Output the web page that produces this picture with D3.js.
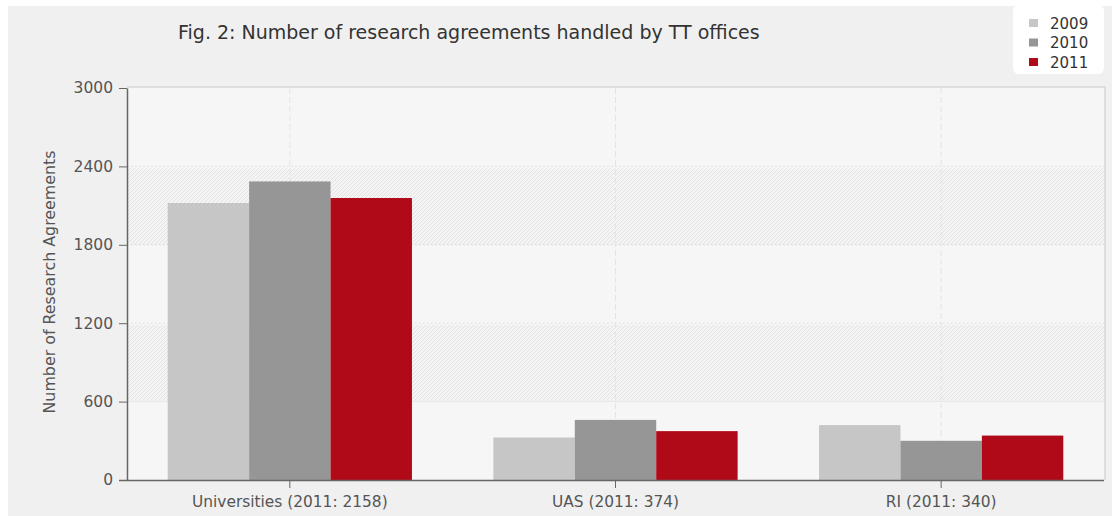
<!DOCTYPE html>
<html>
<head>
<meta charset="utf-8">
<script src="https://cdn.jsdelivr.net/npm/d3@7"></script>
<style>
  html, body { margin: 0; padding: 0; background: #ffffff; }
  svg { display: block; font-family: "DejaVu Sans", sans-serif; }
</style>
</head>
<body>
<svg id="chart" width="1116" height="516"></svg>
<script>
// Research agreements handled by technology-transfer offices
const categories = ["Universities (2011: 2158)", "UAS (2011: 374)", "RI (2011: 340)"];
const years = ["2009", "2010", "2011"];
const values2009 = [2120, 325, 420];
const values2010 = [2285, 460, 300];
const values2011 = [2158, 374, 340];
const yTicks = [0, 600, 1200, 1800, 2400, 3000];
const colors = ["#c6c6c6", "#969696", "#b00a19"];

const seriesValues = [values2009, values2010, values2011];
const rows = categories.map((c, i) => ({
  category: c,
  values: years.map((y, j) => ({ year: y, value: seriesValues[j][i] }))
}));

const svg = d3.select("#chart");
const W = 1116, H = 516;
const margin = { left: 127, right: 12, top: 88, bottom: 36 };
const plotW = W - margin.left - margin.right;
const plotH = H - margin.top - margin.bottom;

// container background
svg.append("rect").attr("x", 8).attr("y", 6).attr("width", W - 12).attr("height", H - 6)
  .attr("fill", "#f0f0f0");

// diagonal hatch for alternating bands
const defs = svg.append("defs");
const pat = defs.append("pattern").attr("id", "hatch").attr("patternUnits", "userSpaceOnUse")
  .attr("width", 4).attr("height", 4);
pat.append("rect").attr("width", 4).attr("height", 4).attr("fill", "#f4f4f4");
pat.append("path").attr("d", "M-1,1 l2,-2 M0,4 l4,-4 M3,5 l2,-2")
  .attr("stroke", "#e2e2e2").attr("stroke-width", 1);

const x = d3.scaleBand().domain(categories).range([0, plotW]).paddingInner(0).paddingOuter(0);
const xInner = d3.scaleBand().domain(years).range([0, x.bandwidth()]).paddingInner(0).paddingOuter(0.5);
const y = d3.scaleLinear().domain([0, 3000]).range([plotH, 0]);

const g = svg.append("g").attr("transform", `translate(${margin.left},${margin.top})`);

// plot background
g.append("rect").attr("width", plotW).attr("height", plotH).attr("fill", "#f6f6f6");
// hatched bands between alternate ticks
g.selectAll("rect.band").data([[600, 1200], [1800, 2400]]).join("rect")
  .attr("class", "band")
  .attr("x", 0).attr("width", plotW)
  .attr("y", d => y(d[1]) + 2).attr("height", d => y(d[0]) - y(d[1]) - 2)
  .attr("fill", "url(#hatch)");

// frame on top and right
g.append("path")
  .attr("d", `M0,-1 H${plotW + 1} V${plotH}`)
  .attr("fill", "none").attr("stroke", "#dedede").attr("stroke-width", 2);

// horizontal dotted grid
g.selectAll("line.hgrid").data(yTicks.filter(t => t > 0 && t < 3000)).join("line")
  .attr("class", "hgrid")
  .attr("x1", 0).attr("x2", plotW)
  .attr("y1", d => y(d)).attr("y2", d => y(d))
  .attr("stroke", "#e2e2e2").attr("stroke-width", 1).attr("stroke-dasharray", "2,2");

// vertical dashed grid at category centres
g.selectAll("line.vgrid").data(categories).join("line")
  .attr("class", "vgrid")
  .attr("x1", d => x(d) + x.bandwidth() / 2).attr("x2", d => x(d) + x.bandwidth() / 2)
  .attr("y1", 0).attr("y2", plotH)
  .attr("stroke", "#e4e4e4").attr("stroke-width", 1).attr("stroke-dasharray", "6,3");

// bars
const groups = g.selectAll("g.cat").data(rows).join("g")
  .attr("class", "cat")
  .attr("transform", d => `translate(${x(d.category)},0)`);
groups.selectAll("rect").data(d => d.values).join("rect")
  .attr("x", d => xInner(d.year))
  .attr("width", xInner.bandwidth())
  .attr("y", d => y(d.value))
  .attr("height", d => plotH - y(d.value))
  .attr("fill", (d, i) => colors[i]);

// y axis
const yAxis = g.append("g").call(d3.axisLeft(y).tickValues(yTicks).tickFormat(d3.format("d"))
  .tickSize(8).tickPadding(6).tickSizeOuter(0));
yAxis.select(".domain").attr("stroke", "#666").attr("stroke-width", 1.5);
yAxis.selectAll(".tick line").attr("stroke", "#666");
yAxis.selectAll(".tick text").attr("fill", "#555").attr("font-size", 15.5).attr("font-family", "DejaVu Sans");

// x axis
const xAxis = g.append("g").attr("transform", `translate(0,${plotH})`)
  .call(d3.axisBottom(x).tickSize(8).tickPadding(8).tickSizeOuter(0));
xAxis.select(".domain").attr("d", `M-8,0.5H${plotW}`).attr("stroke", "#666").attr("stroke-width", 1.5);
xAxis.selectAll(".tick line").attr("stroke", "#666");
xAxis.selectAll(".tick text").attr("fill", "#555").attr("font-size", 15.4).attr("font-family", "DejaVu Sans");

// y axis title
svg.append("text")
  .attr("transform", `translate(55,${margin.top + plotH / 2 - 2}) rotate(-90)`)
  .attr("text-anchor", "middle")
  .attr("fill", "#555").attr("font-size", 15)
  .attr("textLength", 263).attr("lengthAdjust", "spacingAndGlyphs")
  .text("Number of Research Agreements");

// chart title
svg.append("text")
  .attr("x", 178).attr("y", 39)
  .attr("fill", "#333").attr("font-size", 19)
  .text("Fig. 2: Number of research agreements handled by TT offices");

// legend
const lg = svg.append("g").attr("transform", "translate(1013,5)");
lg.append("rect").attr("width", 91).attr("height", 69).attr("rx", 6)
  .attr("fill", "#ffffff");
const items = lg.selectAll("g.item").data(years).join("g")
  .attr("class", "item")
  .attr("transform", (d, i) => `translate(0,${18 + i * 19.5})`);
items.append("rect").attr("x", 16).attr("y", -4).attr("width", 9).attr("height", 8)
  .attr("fill", (d, i) => colors[i]);
items.append("text").attr("x", 37).attr("y", 5.5)
  .attr("fill", "#333").attr("font-size", 15)
  .text(d => d);
</script>
</body>
</html>
